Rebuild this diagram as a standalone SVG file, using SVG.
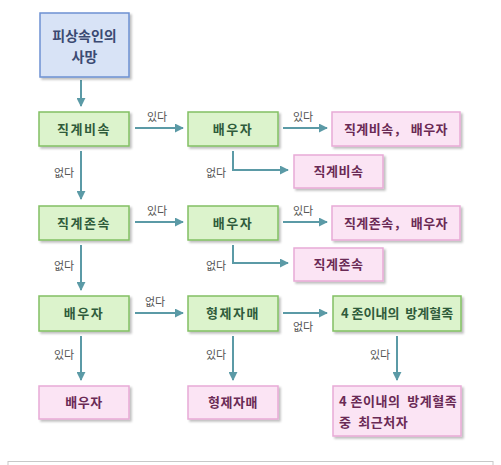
<svg xmlns="http://www.w3.org/2000/svg" width="501" height="465" viewBox="0 0 501 465">
<defs>
<marker id="ah" viewBox="0 0 10 10" refX="9" refY="5" markerWidth="4.5" markerHeight="4.5" orient="auto" markerUnits="strokeWidth">
<path d="M0,0 L10,5 L0,10 z" fill="#5b9aa6"/>
</marker>
<filter id="sh" x="-10%" y="-10%" width="130%" height="140%">
<feDropShadow dx="2" dy="2" stdDeviation="1.2" flood-color="#000" flood-opacity="0.25"/>
</filter>
<style>
text{white-space:pre}
.g{fill:#dcf3cc;stroke:#82c063;stroke-width:1.5;filter:url(#sh)}
.p{fill:#fbe4f4;stroke:#e8aad6;stroke-width:1.5;filter:url(#sh)}
.b{fill:#d8e3f6;stroke:#6d91d2;stroke-width:1.5;filter:url(#sh)}
.gt{font-family:"Noto Sans CJK KR","Noto Sans",sans-serif;font-weight:bold;font-size:13px;fill:#2f5b3b;text-anchor:middle;letter-spacing:1.5px}
.pt{font-family:"Noto Sans CJK KR","Noto Sans",sans-serif;font-weight:bold;font-size:13px;fill:#6a2a55;text-anchor:middle;letter-spacing:0.5px}
.bt{font-family:"Noto Sans CJK KR","Noto Sans",sans-serif;font-weight:bold;font-size:14px;fill:#3b4a72;text-anchor:middle}
.l{font-family:"Noto Sans CJK KR","Noto Sans",sans-serif;font-size:11px;fill:#555;text-anchor:middle}
.c{fill:none;stroke:#5b9aa6;stroke-width:2;marker-end:url(#ah)}
</style>
</defs>
<rect width="501" height="465" fill="#fff"/>
<rect x="8" y="461.5" width="485" height="10" fill="none" stroke="#c8c8c8" stroke-width="1"/>

<g id="connectors">
<path class="c" d="M81,80 V106"/>
<path class="c" d="M135,128 H183"/>
<path class="c" d="M283,128 H327"/>
<path class="c" d="M233,151 V170 H288"/>
<path class="c" d="M81,151 V199"/>
<path class="c" d="M135,222 H183"/>
<path class="c" d="M283,222 H327"/>
<path class="c" d="M233,245 V263 H288"/>
<path class="c" d="M81,245 V290"/>
<path class="c" d="M135,313 H183"/>
<path class="c" d="M283,313 H327"/>
<path class="c" d="M81,336 V380"/>
<path class="c" d="M233,336 V380"/>
<path class="c" d="M397,336 V380"/>
<text class="l" x="157" y="121">있다</text>
<text class="l" x="303" y="121">있다</text>
<text class="l" x="216" y="177">없다</text>
<text class="l" x="64" y="177">없다</text>
<text class="l" x="157" y="215">있다</text>
<text class="l" x="303" y="215">있다</text>
<text class="l" x="216" y="270">없다</text>
<text class="l" x="64" y="270">없다</text>
<text class="l" x="155" y="306">없다</text>
<text class="l" x="303" y="331">없다</text>
<text class="l" x="64" y="359">있다</text>
<text class="l" x="216" y="359">있다</text>
<text class="l" x="380" y="359">있다</text>
</g>

<g id="n-death"><rect class="b" x="40" y="13" width="89" height="64"/><text class="bt" x="84.5" y="41">피상속인의</text><text class="bt" x="84.5" y="62">사망</text></g>

<g id="n-desc"><rect class="g" x="39" y="112" width="90" height="34"/><text class="gt" x="84" y="134">직계비속</text></g>
<g id="n-sp1"><rect class="g" x="188" y="112" width="90" height="34"/><text class="gt" x="233" y="134">배우자</text></g>
<g id="r-desc-sp"><rect class="p" x="332" y="112" width="128" height="34"/><text class="pt" x="396" y="134">직계비속， 배우자</text></g>
<g id="r-desc"><rect class="p" x="294" y="155" width="89" height="33"/><text class="pt" x="338.5" y="176">직계비속</text></g>

<g id="n-asc"><rect class="g" x="39" y="206" width="90" height="34"/><text class="gt" x="84" y="228">직계존속</text></g>
<g id="n-sp2"><rect class="g" x="188" y="206" width="90" height="34"/><text class="gt" x="233" y="228">배우자</text></g>
<g id="r-asc-sp"><rect class="p" x="332" y="206" width="128" height="34"/><text class="pt" x="396" y="228">직계존속， 배우자</text></g>
<g id="r-asc"><rect class="p" x="294" y="248" width="89" height="33"/><text class="pt" x="338.5" y="269">직계존속</text></g>

<g id="n-sp3"><rect class="g" x="39" y="296" width="90" height="35"/><text class="gt" x="84" y="318">배우자</text></g>
<g id="n-sib"><rect class="g" x="188" y="296" width="90" height="35"/><text class="gt" x="233" y="318">형제자매</text></g>
<g id="n-coll"><rect class="g" x="333" y="296" width="128" height="35"/><text class="gt" x="397" y="318" style="letter-spacing:0">4 존이내의  방계혈족</text></g>

<g id="r-sp"><rect class="p" x="39" y="386" width="90" height="33"/><text class="pt" x="84" y="407">배우자</text></g>
<g id="r-sib"><rect class="p" x="188" y="386" width="90" height="33"/><text class="pt" x="233" y="407">형제자매</text></g>
<g id="r-coll"><rect class="p" x="333" y="386" width="128" height="50"/><text class="pt" x="339" y="406" style="text-anchor:start">4 존이내의  방계혈족</text><text class="pt" x="339" y="427" style="text-anchor:start">중  최근처자</text></g>
</svg>
